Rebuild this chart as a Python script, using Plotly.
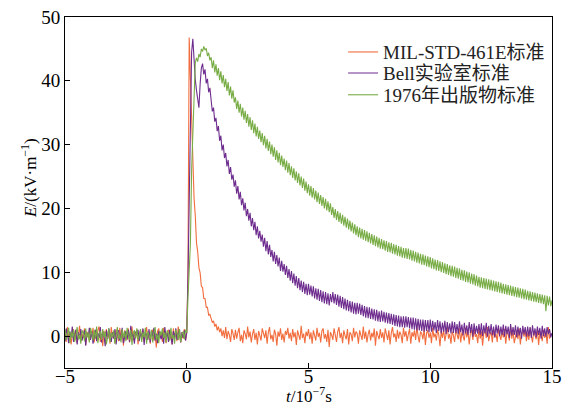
import numpy as np
import plotly.graph_objects as go

# time axis (unit: 1e-7 s), sampled every 0.05 from -5 to 15
t = np.round(np.arange(-5.0, 15.0001, 0.05), 2)

series_names = ["MIL-STD-461E标准", "Bell实验室标准", "1976年出版物标准"]
series_colors = ["#F26D3D", "#6E2D8E", "#78AC45"]

# each row = one time unit (20 samples); final value is t = 15
mil_std = [
    0.8, -0.9, 1.4, -0.2, 0.5, -1.3, 0.3, 1.1, -0.6, 0.9, -1.1, 0.2, 1.6, -0.8, 0.4, -0.3, 1.2, -1.4, 0.7, 0.1,
    -0.7, 1.0, -0.1, 1.3, -1.0, 0.6, -0.5, 0.9, 1.5, -0.9, 0.3, -1.6, 0.8, 0.0, 1.1, -0.4, 0.6, -1.2, 1.4, -0.2,
    0.5, -1.1, 1.0, 0.2, -0.8, 1.3, -0.3, 0.7, -1.5, 0.9, 0.4, -0.6, 1.2, -1.0, 0.1, 1.5, -0.7, 0.6, -0.2, 1.0,
    -1.3, 0.4, 0.9, -0.5, 1.1, -0.9, 0.2, 1.4, -0.4, 0.7, -1.2, 0.5, 1.0, -0.7, 0.3, -1.8, 0.8, 1.2, -0.3, 0.6,
    -0.9, 1.3, 0.0, -1.1, 0.7, 1.0, -0.6, 0.4, -1.3, 1.2, -0.2, 0.8, -0.8, 1.5, 0.3, -1.0, 0.6, -0.4, 1.1, -0.7,
    0.5, 10.0, 46.8, 40.3, 32.6, 27.0, 21.6, 18.9, 14.6, 13.2, 10.7, 9.9, 7.8, 7.6, 5.9, 5.9, 4.5, 4.5, 3.3, 3.4,
    2.9, 2.1, 2.4, 1.5, 1.9, 0.9, 1.5, 0.6, 1.2, 0.0, 0.9, -0.3, 1.4, -0.5, 0.8, 0.2, -0.9, 1.1, 0.4, -0.6,
    1.0, -0.4, 0.6, 1.3, -0.8, 0.2, -1.1, 0.9, 0.4, -0.5, 1.5, -0.2, 0.7, -1.0, 0.3, 1.1, -0.6, 0.5, -1.3, 0.8,
    0.1, -0.7, 1.2, 0.4, -0.3, 0.9, -1.2, 0.6, 1.4, -0.5, 0.2, -0.9, 1.0, 0.3, -1.5, 0.7, -0.1, 1.2, -0.6, 0.4,
    -1.0, 0.8, 0.2, 1.3, -0.4, 0.5, -0.8, 1.1, -0.2, 0.6, -1.4, 0.9, 0.3, -0.6, 1.6, -0.3, 0.4, -1.1, 0.7, 0.0,
    1.1, -0.5, 0.6, -1.2, 0.9, 0.2, -0.7, 1.3, -0.1, 0.5, -1.0, 0.8, 1.2, -0.4, 0.3, -0.9, 1.0, -1.7, 0.6, 0.2,
    -0.6, 1.2, 0.0, -0.9, 0.7, 1.4, -0.3, 0.5, -1.1, 0.9, 0.1, -0.5, 1.1, -1.3, 0.6, 0.3, -0.8, 1.3, -0.2, 0.7,
    0.4, -1.2, 0.9, 0.2, -0.6, 1.5, -0.4, 0.7, -1.0, 0.3, 1.0, -0.7, 0.5, -0.2, 1.2, -1.5, 0.8, 0.1, -0.5, 1.1,
    -0.3, 0.6, -1.0, 1.2, 0.3, -0.6, 0.9, -1.3, 0.5, 1.4, -0.2, 0.4, -0.9, 1.0, -0.4, 0.7, 0.2, -1.1, 1.3, -0.1,
    0.8, -0.8, 0.3, 1.1, -1.2, 0.6, -0.1, 0.9, -0.6, 1.5, 0.0, -1.0, 0.7, 0.4, -0.5, 1.2, -1.4, 0.5, 0.9, -0.3,
    0.6, -1.1, 1.3, -0.2, 0.4, -0.7, 1.0, 0.2, -1.6, 0.8, -0.3, 1.1, -0.8, 0.5, 1.4, -0.4, 0.3, -1.2, 0.7, 0.1,
    -0.9, 1.0, 0.4, -0.5, 1.2, -1.0, 0.6, 0.0, -0.7, 1.3, -0.2, 0.8, -1.3, 0.5, 0.9, -0.6, 1.1, -0.1, 0.3, -1.1,
    1.2, -0.4, 0.7, -1.5, 0.5, 0.9, -0.3, 1.4, -0.8, 0.2, 0.6, -1.0, 1.1, -0.2, 0.4, -0.9, 1.3, 0.1, -0.6, 0.8,
    -0.2, 1.1, -1.2, 0.6, 0.3, -0.7, 1.5, -0.4, 0.8, -1.1, 0.2, 0.9, -0.5, 1.2, -1.3, 0.4, 0.7, -0.1, 1.0, -0.8,
    0.5, -0.6, 1.3, 0.0, -1.0, 0.8, 0.3, -0.5, 1.1, -1.4, 0.7, 0.2, -0.8, 1.0, -0.3, 0.6, -1.2, 1.4, -0.4, 0.3,
    0.2,
]

bell_lab = [
    -0.8, 1.2, 0.3, -1.1, 0.7, -0.2, 1.5, -0.9, 0.4, 1.0, -1.3, 0.6, -0.4, 1.1, -0.7, 0.2, 0.9, -1.5, 0.5, -0.1,
    1.3, -0.6, 0.8, -1.2, 0.1, 1.0, -0.8, 0.5, -0.3, 1.4, -1.0, 0.7, 0.2, -1.6, 0.9, -0.5, 1.2, 0.0, -0.9, 0.6,
    -0.4, 1.1, -1.3, 0.6, 0.9, -0.7, 0.3, 1.3, -1.1, 0.2, 0.8, -0.5, 1.0, -0.9, 1.6, -0.2, 0.4, -1.2, 0.7, 0.1,
    1.0, -0.8, 0.5, -0.3, 1.2, -1.4, 0.6, 0.2, -0.6, 1.1, -1.0, 0.9, -0.1, 1.3, -0.7, 0.4, -1.1, 0.8, 0.3, -0.5,
    0.7, -1.2, 1.4, -0.2, 0.5, -0.9, 1.0, 0.1, -1.3, 0.8, -0.4, 1.2, -0.6, 0.3, 1.1, -1.0, 0.6, -0.3, 0.9, -0.7,
    0.6, 9.0, 23.5, 35.0, 44.5, 46.6, 43.0, 40.2, 38.5, 36.8, 35.8, 39.5, 42.0, 42.7, 41.0, 41.8, 39.6, 40.3, 38.2, 38.9,
    37.3, 35.2, 35.8, 33.6, 34.2, 32.1, 32.9, 30.6, 31.4, 29.1, 30.0, 27.9, 28.7, 26.6, 27.6, 25.4, 26.5, 24.5, 25.3, 23.4,
    24.4, 22.3, 23.5, 21.4, 22.6, 20.5, 21.6, 19.7, 20.9, 18.8, 19.9, 18.1, 19.3, 17.2, 18.5, 16.6, 17.9, 15.8, 17.2, 15.3,
    16.5, 14.8, 15.9, 14.0, 15.4, 13.3, 14.9, 12.8, 14.3, 12.4, 13.5, 11.7, 13.2, 11.3, 12.7, 10.9, 12.3, 10.2, 11.8, 10.1,
    11.3, 9.6, 11.0, 9.1, 10.5, 8.7, 10.2, 8.3, 9.8, 7.9, 9.4, 7.5, 9.1, 7.2, 8.7, 6.9, 8.5, 6.6, 8.2, 6.4,
    8.2, 6.5, 7.9, 6.2, 7.8, 5.9, 7.5, 5.7, 7.4, 5.5, 7.2, 5.3, 7.0, 5.1, 6.9, 5.0, 6.7, 4.8, 6.6, 5.3,
    6.9, 5.1, 6.6, 4.9, 6.5, 4.6, 6.3, 4.4, 6.1, 4.2, 5.9, 4.0, 5.7, 3.9, 5.5, 3.7, 5.4, 3.5, 5.2, 3.4,
    5.2, 3.5, 5.1, 3.3, 4.9, 3.1, 4.7, 2.9, 4.6, 2.8, 4.5, 2.7, 4.3, 2.6, 4.2, 2.4, 4.1, 2.3, 3.9, 2.2,
    4.0, 2.3, 3.8, 2.1, 3.7, 2.0, 3.6, 1.9, 3.5, 1.8, 3.4, 1.6, 3.3, 1.5, 3.2, 1.4, 3.1, 1.4, 3.1, 1.3,
    3.1, 1.4, 3.0, 1.2, 2.9, 1.1, 2.9, 1.0, 2.8, 0.9, 2.7, 0.9, 2.6, 0.8, 2.6, 0.7, 2.5, 0.8, 2.5, 0.6,
    2.6, 0.7, 2.4, 0.9, 2.2, 0.5, 2.5, 0.8, 2.3, 0.4, 2.1, 0.7, 2.4, 0.3, 2.2, 0.6, 2.0, 0.4, 2.3, 0.5,
    2.2, 0.5, 1.9, 0.3, 2.3, 0.6, 1.8, 0.1, 2.1, 0.4, 1.7, 0.2, 2.2, 0.5, 1.9, -0.1, 2.0, 0.3, 1.6, 0.4,
    1.9, 0.2, 2.0, 0.0, 1.7, 0.4, 2.1, -0.1, 1.6, 0.3, 1.9, 0.1, 1.5, -0.2, 1.8, 0.4, 1.7, 0.0, 1.5, 0.2,
    1.8, -0.1, 1.6, 0.3, 1.5, -0.3, 1.9, 0.1, 1.4, 0.2, 1.7, -0.2, 1.5, 0.1, 1.3, -0.4, 1.6, 0.3, 1.4, -0.1,
    1.5, 0.0, 1.4, -0.3, 1.7, 0.1, 1.2, -0.2, 1.5, 0.2, 1.3, -0.4, 1.6, 0.0, 1.2, -0.1, 1.4, 0.3, 1.1, -0.2,
    0.5,
]

pub_1976 = [
    1.1, -0.6, 0.4, 1.3, -1.1, 0.7, -0.2, 1.0, -0.9, 0.3, 1.4, -0.5, 0.2, -1.2, 0.9, 0.5, -0.8, 1.2, -0.3, 0.6,
    -1.0, 1.3, 0.2, -0.7, 1.0, -0.4, 1.5, -1.1, 0.3, 0.8, -0.6, 1.1, -0.2, 0.7, -1.3, 0.4, 1.2, -0.9, 0.5, -0.1,
    0.9, -1.2, 0.6, 1.4, -0.5, 0.2, -1.0, 1.1, -0.3, 0.8, -0.8, 1.3, 0.1, -0.6, 1.0, -1.4, 0.5, 0.9, -0.4, 1.2,
    -0.7, 0.4, 1.1, -0.9, 0.6, -0.2, 1.3, -1.2, 0.7, 0.2, -0.5, 1.0, -1.0, 0.5, 1.4, -0.6, 0.3, -1.1, 0.8, 0.1,
    1.2, -0.3, 0.6, -1.0, 0.9, 0.4, -0.7, 1.3, -0.4, 0.2, -1.2, 1.0, 0.5, -0.6, 1.1, -0.9, 0.3, 0.7, -0.5, 1.0,
    0.5, 6.0, 11.0, 14.5, 26.0, 33.0, 38.5, 42.8, 43.6, 43.0, 44.2, 43.7, 45.0, 44.6, 45.4, 44.8, 45.1, 43.9, 44.4, 43.2,
    43.7, 42.0, 43.2, 41.3, 42.6, 40.8, 42.0, 40.1, 41.5, 39.6, 40.9, 39.0, 40.3, 38.4, 39.8, 37.7, 39.1, 37.2, 38.5, 36.6,
    37.4, 35.6, 36.9, 35.0, 36.4, 34.4, 35.8, 33.9, 35.3, 33.4, 34.8, 32.8, 34.3, 32.3, 33.8, 31.8, 33.3, 31.3, 32.8, 30.9,
    32.2, 30.4, 31.8, 29.9, 31.4, 29.4, 30.9, 29.0, 30.5, 28.5, 30.0, 28.1, 29.6, 27.6, 29.1, 27.2, 28.7, 26.8, 28.3, 26.5,
    27.8, 26.0, 27.5, 25.6, 27.1, 25.2, 26.6, 24.8, 26.3, 24.4, 25.8, 24.0, 25.5, 23.6, 25.0, 23.2, 24.7, 22.8, 24.2, 22.4,
    23.8, 22.0, 23.5, 21.7, 23.2, 21.4, 22.8, 21.0, 22.5, 20.7, 22.1, 20.4, 21.8, 20.0, 21.5, 19.7, 21.1, 19.4, 20.8, 19.0,
    20.2, 18.5, 19.9, 18.2, 19.6, 17.9, 19.3, 17.6, 19.0, 17.3, 18.7, 17.0, 18.4, 16.7, 18.1, 16.4, 17.8, 16.1, 17.5, 15.8,
    17.2, 15.5, 17.0, 15.3, 16.8, 15.1, 16.6, 14.9, 16.4, 14.7, 16.2, 14.5, 16.0, 14.3, 15.8, 14.1, 15.6, 13.9, 15.4, 13.7,
    15.2, 13.6, 15.0, 13.4, 14.9, 13.2, 14.7, 13.1, 14.6, 12.9, 14.4, 12.8, 14.3, 12.6, 14.1, 12.5, 14.0, 12.3, 13.8, 12.2,
    13.8, 12.1, 13.7, 12.0, 13.5, 11.8, 13.4, 11.7, 13.2, 11.5, 13.1, 11.4, 12.9, 11.2, 12.8, 11.1, 12.6, 10.9, 12.5, 10.8,
    12.4, 10.6, 12.2, 10.5, 12.0, 10.3, 11.9, 10.2, 11.7, 10.0, 11.6, 9.9, 11.4, 9.7, 11.3, 9.6, 11.1, 9.4, 11.0, 9.3,
    10.9, 9.1, 10.7, 9.0, 10.6, 8.8, 10.4, 8.7, 10.3, 8.5, 10.1, 8.4, 10.0, 8.2, 9.8, 8.1, 9.7, 7.9, 9.5, 7.8,
    9.3, 7.6, 9.2, 7.5, 9.1, 7.4, 9.0, 7.3, 8.9, 7.2, 8.8, 7.1, 8.7, 7.0, 8.6, 6.9, 8.5, 6.8, 8.4, 6.7,
    8.2, 6.6, 8.1, 6.5, 8.0, 6.4, 7.9, 6.3, 7.8, 6.2, 7.7, 6.1, 7.6, 6.0, 7.5, 5.9, 7.4, 5.8, 7.3, 5.7,
    7.1, 5.6, 7.0, 5.5, 6.9, 5.4, 6.8, 5.3, 6.7, 5.2, 6.6, 5.1, 6.5, 5.0, 6.4, 3.9, 6.3, 4.8, 6.2, 4.7,
    5.6,
]

x_ticks = [-5, 0, 5, 10, 15]
x_tick_text = ["\u22125", "0", "5", "10", "15"]
y_ticks = [0, 10, 20, 30, 40, 50]
x_title = "<i>t</i>/10<sup>\u22127</sup>s"
y_title = "<i>E</i>/(kV·m<sup>\u22121</sup>)"

FONT = "'Liberation Serif', 'Times New Roman', 'Noto Sans CJK SC', serif"

legend_ids = ["legend", "legend2", "legend3"]
legend_y = [0.900, 0.840, 0.778]

fig = go.Figure()
for name, color, vals, lg in zip(series_names, series_colors,
                                 [mil_std, bell_lab, pub_1976], legend_ids):
    fig.add_trace(go.Scatter(x=t, y=vals, mode="lines", name=name, legend=lg,
                             line=dict(color=color, width=1.1)))

legend_common = dict(x=0.571, xanchor="left", yanchor="middle",
                     bgcolor="rgba(0,0,0,0)",
                     font=dict(family=FONT, size=19, color="#222"),
                     itemwidth=30)

fig.update_layout(
    width=569, height=409,
    margin=dict(l=65, r=17, t=17, b=41, autoexpand=False),
    paper_bgcolor="white", plot_bgcolor="white",
    font=dict(family=FONT, size=18, color="black"),
    showlegend=True,
    legend=dict(y=legend_y[0], **legend_common),
    legend2=dict(y=legend_y[1], **legend_common),
    legend3=dict(y=legend_y[2], **legend_common),
    annotations=[
        dict(text=x_title, xref="paper", yref="paper", x=0.5, y=-0.114,
             xanchor="center", yanchor="bottom", showarrow=False,
             font=dict(family=FONT, size=17, color="black")),
        dict(text=y_title, xref="paper", yref="paper", x=-0.074, y=0.541,
             xanchor="center", yanchor="middle", showarrow=False, textangle=-90,
             font=dict(family=FONT, size=17, color="black")),
    ],
)
fig.update_xaxes(
    range=[-5, 15], tickvals=x_ticks, ticktext=x_tick_text,
    ticks="inside", ticklen=5, tickcolor="black", showline=True, linecolor="black",
    linewidth=1, mirror=True, showgrid=False, zeroline=False, automargin=False,
    ticklabelstandoff=-9,
    tickfont=dict(family=FONT, size=19, color="black"),
)
fig.update_yaxes(
    range=[-5, 50], tickvals=y_ticks,
    ticks="inside", ticklen=5, tickcolor="black", showline=True, linecolor="black",
    linewidth=1, mirror=True, showgrid=False, zeroline=False, automargin=False,
    tickfont=dict(family=FONT, size=19, color="black"),
)

fig.write_html("out.html")
